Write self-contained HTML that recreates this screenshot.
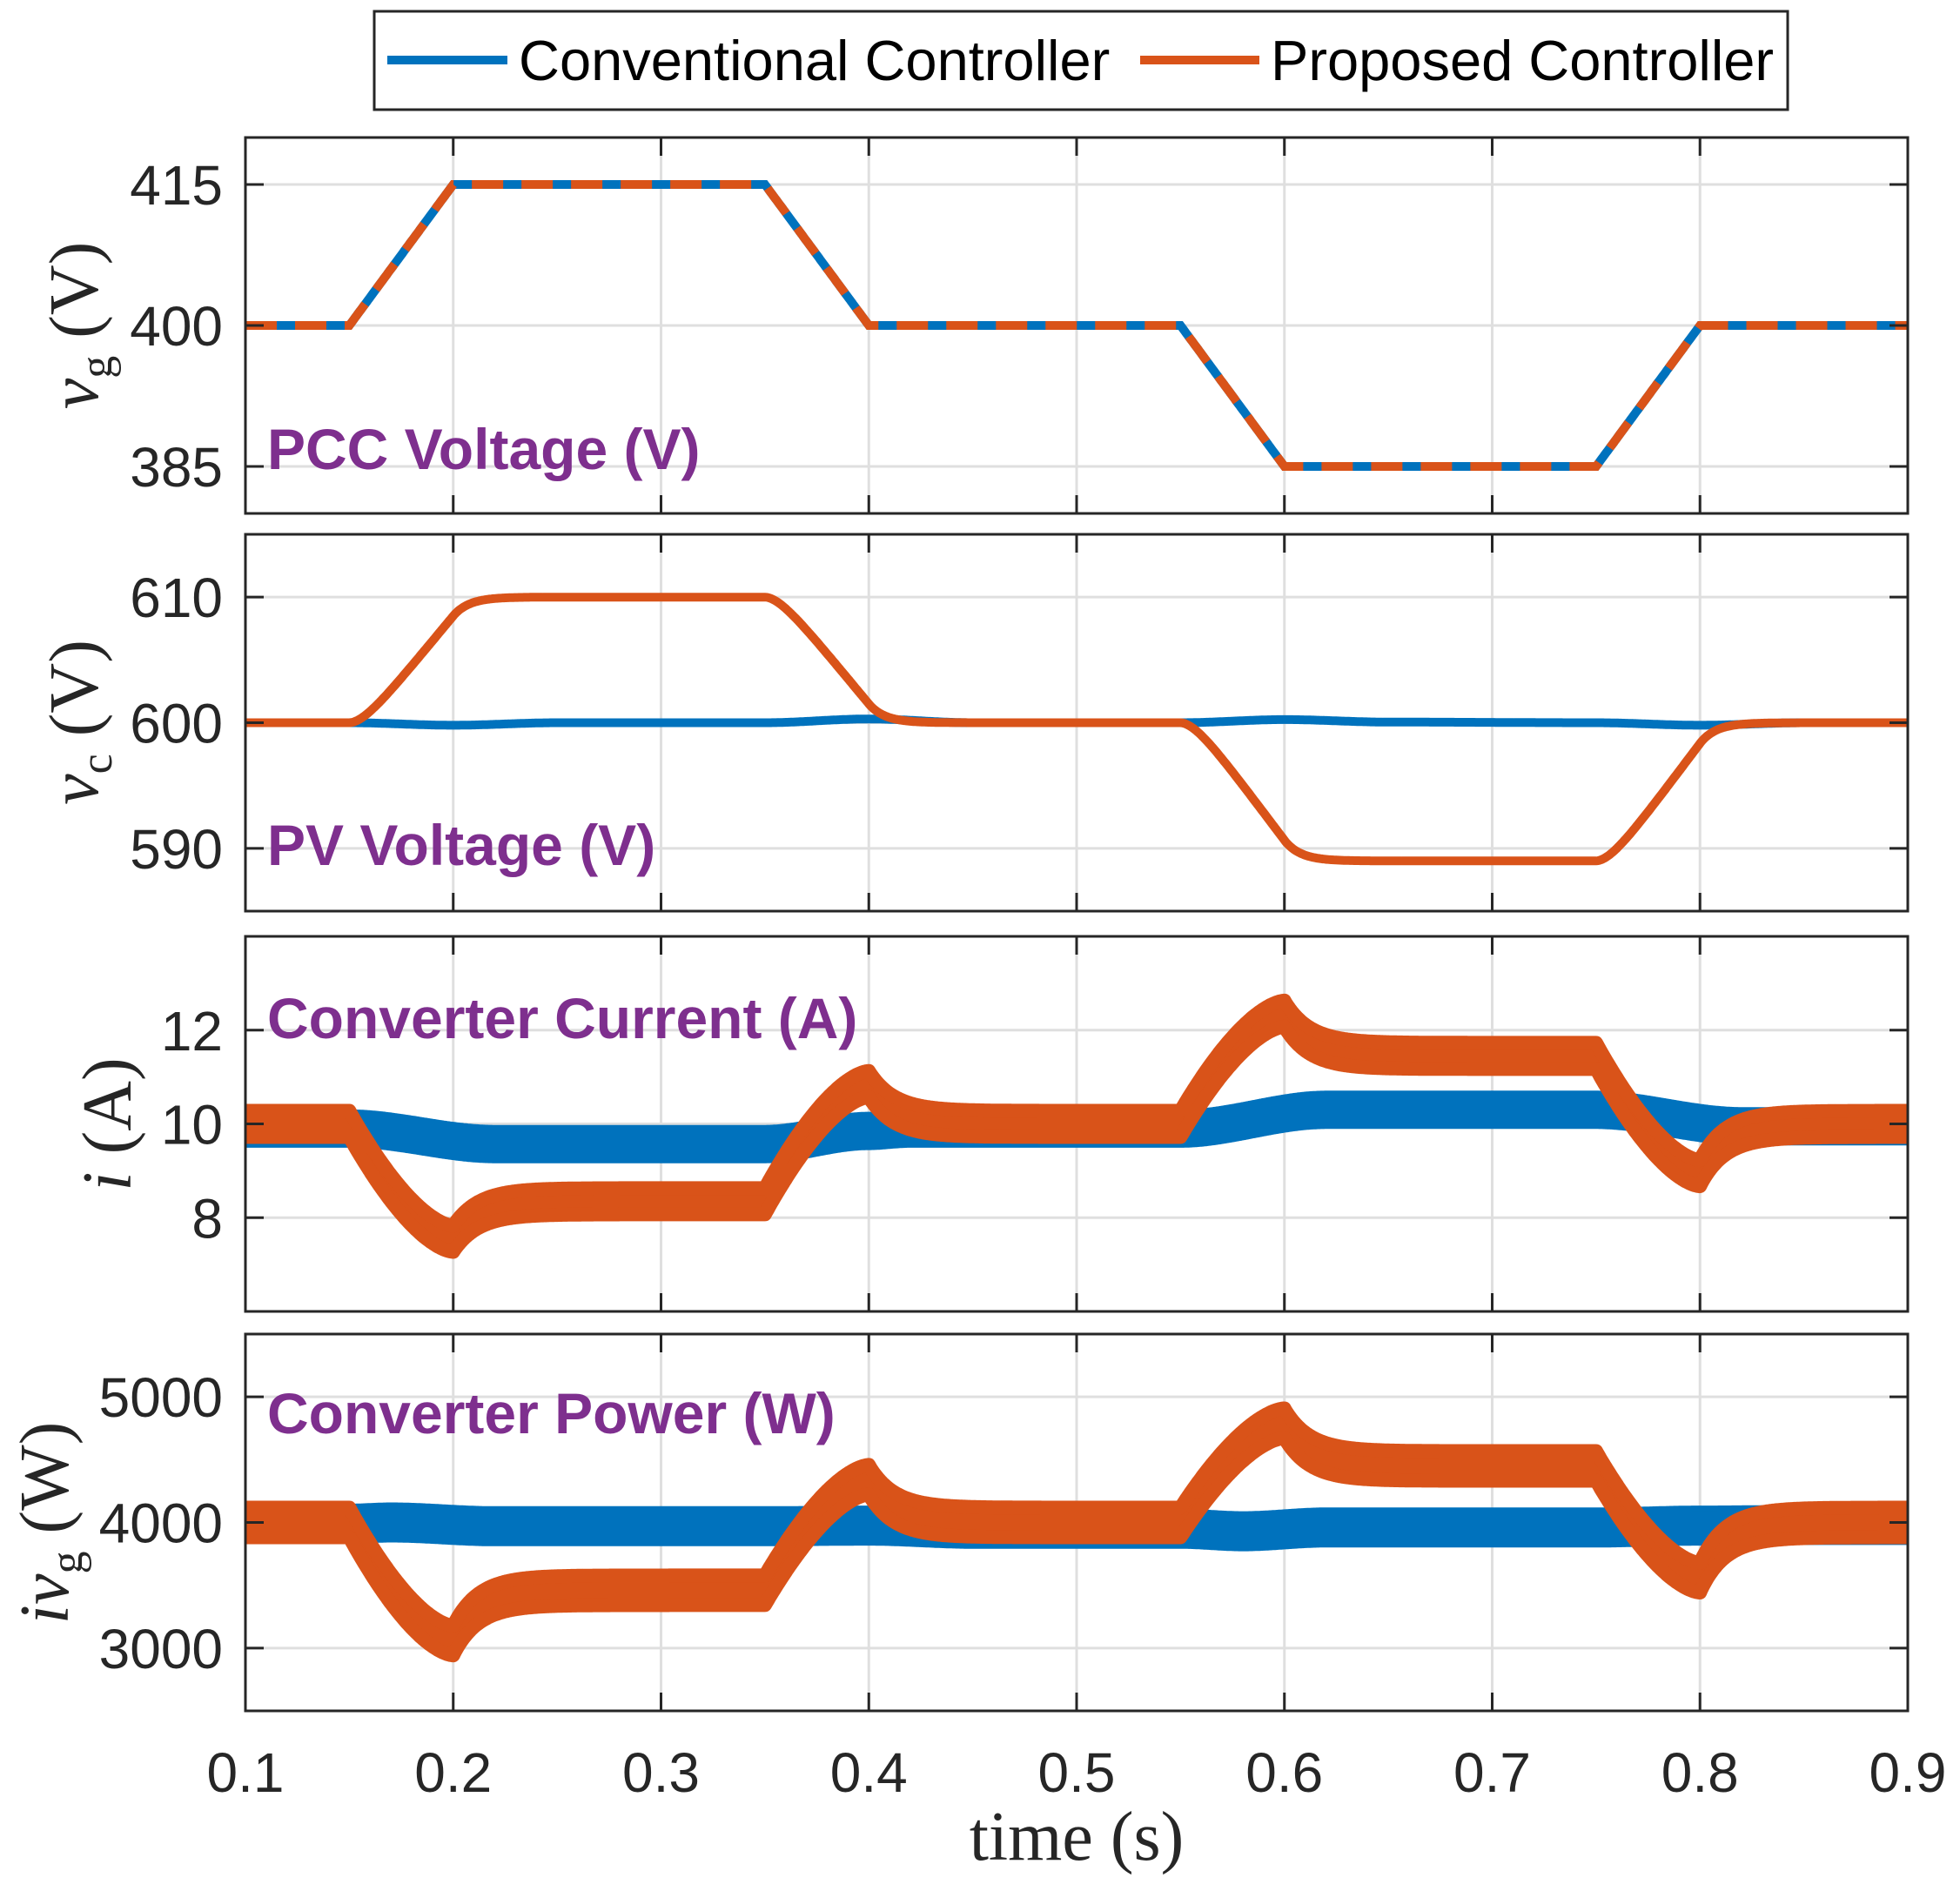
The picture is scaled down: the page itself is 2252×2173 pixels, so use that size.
<!DOCTYPE html>
<html><head><meta charset="utf-8"><style>
html,body{margin:0;padding:0;background:#fff;}
svg{display:block;}
.tk{font-family:"Liberation Sans",sans-serif;font-size:64px;fill:#262626;}
.ann{font-family:"Liberation Sans",sans-serif;font-size:66px;font-weight:bold;fill:#7E2F8E;}
.lab{font-family:"Liberation Serif",serif;font-size:80px;fill:#262626;}
.leg{font-family:"Liberation Sans",sans-serif;font-size:65px;fill:#000;}
</style></head><body>
<svg id="s" width="2252" height="2173" viewBox="0 0 2252 2173" xmlns="http://www.w3.org/2000/svg">
<rect x="430" y="13" width="1624" height="113" fill="#fff" stroke="#262626" stroke-width="3"/>
<line x1="445" y1="69" x2="583" y2="69" stroke="#0072BD" stroke-width="10"/>
<text x="596" y="92" class="leg">Conventional Controller</text>
<line x1="1310" y1="69" x2="1447" y2="69" stroke="#D95319" stroke-width="10"/>
<text x="1460" y="92" class="leg">Proposed Controller</text>
<g id="plots"></g>
<text x="1237" y="2137" text-anchor="middle" class="lab">time (s)</text>
</svg>
<script>
const NS="http://www.w3.org/2000/svg";
const L=282,R=2192;
const X=t=>L+(t-0.1)/0.8*(R-L);
const panels=[
 {top:158,bot:590,lo:380,hi:420,ticks:[385,400,415]},
 {top:614,bot:1047,lo:585,hi:615,ticks:[590,600,610]},
 {top:1076,bot:1507,lo:6,hi:14,ticks:[8,10,12]},
 {top:1533,bot:1966,lo:2500,hi:5500,ticks:[3000,4000,5000]}];
const g=document.getElementById('plots');
function el(n,a,txt){const e=document.createElementNS(NS,n);for(const k in a)e.setAttribute(k,a[k]);if(txt!==undefined)e.textContent=txt;g.appendChild(e);return e;}
function Y(p,v){return p.bot-(v-p.lo)/(p.hi-p.lo)*(p.bot-p.top);}
function vg(t){
 const seg=[[0.1,400],[0.15,400],[0.2,415],[0.35,415],[0.4,400],[0.55,400],[0.6,385],[0.75,385],[0.8,400],[0.9,400]];
 for(let i=0;i<seg.length-1;i++){if(t<=seg[i+1][0]){const[a,b]=[seg[i],seg[i+1]];return a[1]+(b[1]-a[1])*(t-a[0])/(b[0]-a[0]);}}
 return 400;}
const dt=0.0005,N=Math.round(0.8/dt);
const T=[],VG=[],VC=[],VB=[],IO=[],IB=[],PO=[],PB=[];
let f=600;
function trans(t,segs){
 let v=segs.start;
 for(const s of segs.list){
  const [t0,t1,a,pk,st,tau,pw]=s;
  if(t<t0) break;
  if(t<=t1){const u=(t-t0)/(t1-t0);v=a+(pk-a)*(1-Math.pow(1-u,pw));}
  else v=st+(pk-st)*Math.exp(-(t-t1)/tau);
 }
 return v;}
const iO={start:10,list:[[0.15,0.2,10,7.55,8.35,0.012,1.6],[0.35,0.4,8.35,10.85,10,0.012,1.6],[0.55,0.6,10,12.35,11.45,0.012,1.6],[0.75,0.8,11.45,8.95,10,0.012,1.6]]};
const pO={start:4000,list:[[0.15,0.2,4000,3060,3460,0.012,1.6],[0.35,0.4,3460,4340,4000,0.012,1.6],[0.55,0.6,4000,4790,4450,0.012,1.6],[0.75,0.8,4450,3560,4000,0.012,1.6]]};
function sm(t,pts){
 let v=pts[0][1];
 for(let i=1;i<pts.length;i++){const[t0,a]=pts[i-1],[t1,b]=pts[i];if(t>=t0&&t<=t1){const u=(t-t0)/(t1-t0);const s=u*u*(3-2*u);return a+(b-a)*s;} if(t>t1)v=b;}
 return v;}
for(let k=0;k<=N;k++){
 const t=0.1+k*dt;T.push(t);
 const v=vg(t);VG.push(v);
 const tgt=v>=400?600+(v-400)*10/15:600+(v-400)*11/15;
 f+=(tgt-f)*dt/0.008;VC.push(f);
 VB.push(sm(t,[[0.1,600],[0.15,600],[0.2,599.8],[0.25,600],[0.35,600],[0.4,600.3],[0.45,600],[0.55,600],[0.6,600.25],[0.65,600.05],[0.75,600],[0.8,599.8],[0.85,600],[0.9,600]]));
 IO.push(trans(t,iO));
 IB.push(sm(t,[[0.1,9.9],[0.15,9.9],[0.22,9.57],[0.35,9.57],[0.4,9.85],[0.42,9.9],[0.55,9.9],[0.62,10.3],[0.75,10.3],[0.82,9.95],[0.9,9.95]]));
 PO.push(trans(t,pO));
 PB.push(sm(t,[[0.1,3990],[0.15,3990],[0.17,4000],[0.22,3970],[0.35,3970],[0.4,3975],[0.45,3950],[0.55,3950],[0.58,3930],[0.62,3960],[0.75,3960],[0.8,3975],[0.85,3980],[0.9,3980]]));
}
function path(p,arr){let d='';for(let k=0;k<arr.length;k++){d+=(k?'L':'M')+X(T[k]).toFixed(1)+' '+Y(p,arr[k]).toFixed(1);}return d;}
function band(p,arr,h){let d='';for(let k=0;k<arr.length;k++){d+=(k?'L':'M')+X(T[k]).toFixed(1)+' '+(Y(p,arr[k])-h).toFixed(1);}
 for(let k=arr.length-1;k>=0;k--){d+='L'+X(T[k]).toFixed(1)+' '+(Y(p,arr[k])+h).toFixed(1);}return d+'Z';}
const ticksX=[0.1,0.2,0.3,0.4,0.5,0.6,0.7,0.8,0.9];
panels.forEach((p,i)=>{
 const cpp=el('clipPath',{id:'c'+i});
 const cr=document.createElementNS(NS,'rect');cr.setAttribute('x',L);cr.setAttribute('y',p.top);cr.setAttribute('width',R-L);cr.setAttribute('height',p.bot-p.top);cpp.appendChild(cr);
 ticksX.forEach(t=>el('line',{x1:X(t),x2:X(t),y1:p.top,y2:p.bot,stroke:'#dfdfdf','stroke-width':3}));
 p.ticks.forEach(v=>el('line',{x1:L,x2:R,y1:Y(p,v),y2:Y(p,v),stroke:'#dfdfdf','stroke-width':3}));
 const cl='url(#c'+i+')';
 if(i==0){
  el('path',{d:path(p,VG),fill:'none',stroke:'#0072BD','stroke-width':10,'clip-path':cl});
  el('path',{d:path(p,VG),fill:'none',stroke:'#D95319','stroke-width':10,'stroke-dasharray':'36 21','clip-path':cl});
 } else if(i==1){
  el('path',{d:path(p,VB),fill:'none',stroke:'#0072BD','stroke-width':10,'clip-path':cl});
  el('path',{d:path(p,VC),fill:'none',stroke:'#D95319','stroke-width':10,'clip-path':cl});
 } else if(i==2){
  el('path',{d:band(p,IB,19),fill:'#0072BD',stroke:'#0072BD','stroke-width':6,'clip-path':cl});
  el('path',{d:band(p,IO,15),fill:'#D95319',stroke:'#D95319','stroke-width':16,'stroke-linejoin':'round','clip-path':cl});
 } else {
  el('path',{d:band(p,PB,20),fill:'#0072BD',stroke:'#0072BD','stroke-width':6,'clip-path':cl});
  el('path',{d:band(p,PO,17),fill:'#D95319',stroke:'#D95319','stroke-width':16,'stroke-linejoin':'round','clip-path':cl});
 }
 el('rect',{x:L,y:p.top,width:R-L,height:p.bot-p.top,fill:'none',stroke:'#262626','stroke-width':3});
 ticksX.forEach(t=>{el('line',{x1:X(t),x2:X(t),y1:p.top,y2:p.top+21,stroke:'#262626','stroke-width':3});el('line',{x1:X(t),x2:X(t),y1:p.bot,y2:p.bot-21,stroke:'#262626','stroke-width':3});});
 p.ticks.forEach(v=>{const y=Y(p,v);el('line',{x1:L,x2:L+21,y1:y,y2:y,stroke:'#262626','stroke-width':3});el('line',{x1:R,x2:R-21,y1:y,y2:y,stroke:'#262626','stroke-width':3});
  el('text',{x:256,y:y+23,'text-anchor':'end',class:'tk'},String(v));});
});
ticksX.forEach(t=>el('text',{x:X(t),y:2059,'text-anchor':'middle',class:'tk'},t.toFixed(1)));
el('text',{x:307,y:539,class:'ann'},'PCC Voltage (V)');
el('text',{x:307,y:994,class:'ann'},'PV Voltage (V)');
el('text',{x:307,y:1193,class:'ann'},'Converter Current (A)');
el('text',{x:307,y:1647,class:'ann'},'Converter Power (W)');
function ylab(cx,cy,html){const t=el('text',{transform:`translate(${cx},${cy}) rotate(-90)`,'text-anchor':'middle',class:'lab'});t.innerHTML=html;}
ylab(112,374,'<tspan font-style="italic">v</tspan><tspan font-size="52" dy="16">g</tspan><tspan dy="-16"> (V)</tspan>');
ylab(112,830,'<tspan font-style="italic">v</tspan><tspan font-size="52" dy="16">c</tspan><tspan dy="-16"> (V)</tspan>');
ylab(150,1292,'<tspan font-style="italic">i</tspan> (A)');
ylab(78,1750,'<tspan font-style="italic">iv</tspan><tspan font-size="52" dy="16">g</tspan><tspan dy="-16"> (W)</tspan>');
</script>
</body></html>
